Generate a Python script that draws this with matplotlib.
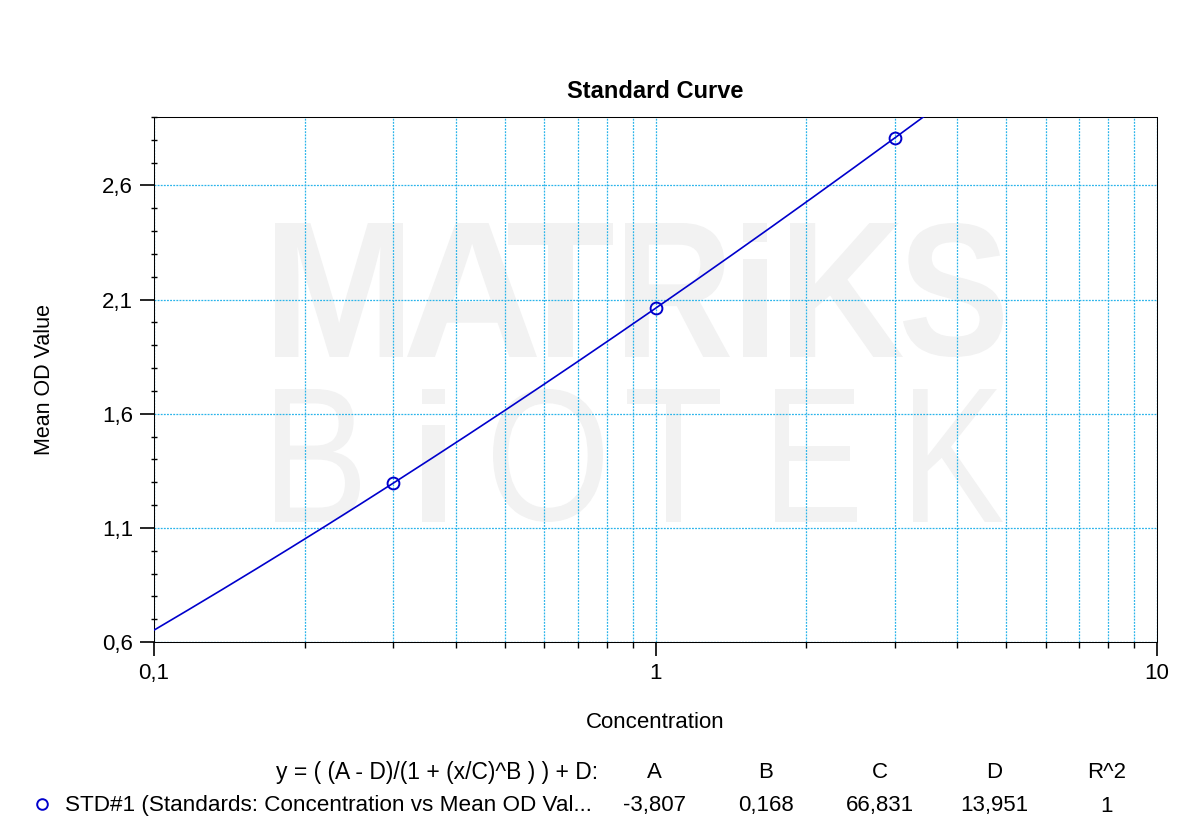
import numpy as np
import matplotlib
matplotlib.use("Agg")
import matplotlib.pyplot as plt
from matplotlib.ticker import FixedLocator, FixedFormatter, NullFormatter
from matplotlib.textpath import TextPath
from matplotlib.patches import PathPatch
from matplotlib.font_manager import FontProperties
from matplotlib.transforms import Affine2D

# Données
conc = [0.3, 1.0, 3.0]
mean_od = [1.297, 2.062, 2.808]

# Paramètres du fit 4PL affichés sous le graphique
param_names = ["A", "B", "C", "D", "R^2"]
param_values = [-3.807, 0.168, 66.831, 13.951, 1]
param_labels = ["-3,807", "0,168", "66,831", "13,951", "1"]

x_ticks = [0.1, 1, 10]
x_tick_labels = ["0,1", "1", "10"]
y_ticks = [0.6, 1.1, 1.6, 2.1, 2.6]
y_tick_labels = ["0,6", "1,1", "1,6", "2,1", "2,6"]
y_minor = [0.7, 0.8, 0.9, 1.0, 1.2, 1.3, 1.4, 1.5, 1.7, 1.8, 1.9, 2.0,
           2.2, 2.3, 2.4, 2.5, 2.7, 2.8, 2.9]
x_minor = [0.2, 0.3, 0.4, 0.5, 0.6, 0.7, 0.8, 0.9, 2, 3, 4, 5, 6, 7, 8, 9]

FONT = "Liberation Sans"
W, H = 1200, 832
BLUE = "#0000cc"
GRID = "#2ab4ea"

fig = plt.figure(figsize=(12, 8.32), dpi=100)
ax = fig.add_axes([154 / W, 1 - 642 / H, (1157 - 154) / W, (642 - 117) / H])

# Filigrane MATRiKS / BiOTEK (lettre par lettre)
def wm_letter(ch, x0, x1, ytop, ybot, bold):
    fp = FontProperties(family=FONT, weight="bold" if bold else "normal")
    p = TextPath((0, 0), ch, size=100, prop=fp)
    e = p.get_extents()
    tr = (Affine2D().translate(-e.x0, -e.y0)
          .scale((x1 - x0) / e.width / W, (ybot - ytop) / e.height / H)
          .translate(x0 / W, 1 - ybot / H) + fig.transFigure)
    ax.add_patch(PathPatch(p, transform=tr, fc="#f2f2f2", ec="none", zorder=0.1))

for ch, a, b in [("M", 275, 403), ("A", 407, 537), ("T", 508, 613), ("R", 625, 730),
                 ("i", 743, 767), ("K", 790, 903), ("S", 903, 1003)]:
    wm_letter(ch, a, b, 223, 357, True)
for ch, a, b in [("B", 275, 360), ("i", 422, 445), ("O", 493, 603), ("T", 627, 720),
                 ("E", 775, 857), ("K", 913, 1003)]:
    wm_letter(ch, a, b, 389, 522, False)

# Courbe du fit
A, B, C, D = param_values[:4]
xs = np.logspace(-1, np.log10(4), 400)
ys = (A - D) / (1 + (xs / C) ** B) + D
ax.plot(xs, ys, color=BLUE, lw=1.2, zorder=3)
pts, = ax.plot(conc, mean_od, "o", mfc="none", mec=BLUE, ms=8.5, mew=1.4, zorder=4)

ax.set_xscale("log")
ax.set_xlim(0.1, 10)
ax.set_ylim(0.6, 2.9)

ax.xaxis.set_major_locator(FixedLocator(x_ticks))
ax.xaxis.set_major_formatter(FixedFormatter(x_tick_labels))
ax.xaxis.set_minor_locator(FixedLocator(x_minor))
ax.xaxis.set_minor_formatter(NullFormatter())
ax.yaxis.set_major_locator(FixedLocator(y_ticks))
ax.yaxis.set_major_formatter(FixedFormatter(y_tick_labels))
ax.yaxis.set_minor_locator(FixedLocator(y_minor))

ax.tick_params(which="major", length=10, width=1.2, labelsize=16, pad=5)
ax.tick_params(axis="x", which="minor", length=4, width=1)
ax.tick_params(axis="y", which="minor", length=4, width=1, direction="inout")
for lab in ax.get_xticklabels() + ax.get_yticklabels():
    lab.set_fontfamily(FONT)

ax.set_axisbelow(True)
ax.grid(which="major", axis="both", color=GRID, ls=(0, (1.5, 1)), lw=0.9)
ax.grid(which="minor", axis="x", color=GRID, ls=(0, (1.5, 1)), lw=0.9)

for s in ax.spines.values():
    s.set_linestyle((0, (1, 1)))
    s.set_linewidth(0.75)
    s.set_color("black")

ax.set_title("Standard Curve", fontsize=17, fontweight="bold", family=FONT, pad=14)
ax.set_xlabel("Concentration", fontsize=16, family=FONT, labelpad=20)
fig.text(45 / W, 1 - 380 / H, "Mean OD Value", rotation=90, fontsize=15.5,
         family=FONT, ha="center", va="center")

# Tableau des paramètres
col_x = [654, 766, 880, 994, 1107]
fig.text(598 / W, 1 - 772 / H, "y = ( (A - D)/(1 + (x/C)^B ) ) + D:", fontsize=16.5,
         family=FONT, ha="right", va="center")
for cx, name, val in zip(col_x, param_names, param_labels):
    fig.text(cx / W, 1 - 772 / H, name, fontsize=16, family=FONT, ha="center", va="center")
    fig.text(cx / W, 1 - 806 / H, val, fontsize=16, family=FONT, ha="center", va="center")

fig.legend(handles=[pts], labels=["STD#1 (Standards: Concentration vs Mean OD Val..."],
           loc="center left", bbox_to_anchor=(22 / W, 1 - 806 / H), frameon=False,
           handlelength=1.0, handletextpad=0.5, borderaxespad=0,
           prop=FontProperties(family=FONT, size=16.2), markerscale=0.9)

fig.savefig("out.png", dpi=100)
